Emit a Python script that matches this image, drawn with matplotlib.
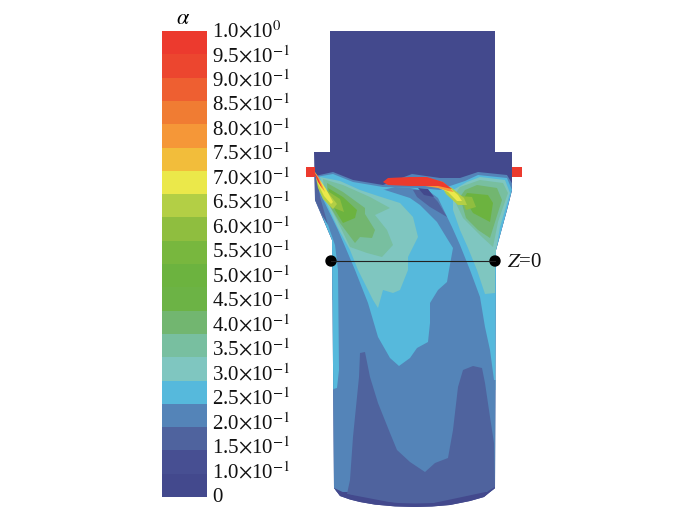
"""
Volume fraction contour of the burner section, with a stepped colour legend.
Contour outlines are read off the picture, in image pixels.
"""

import matplotlib.pyplot as plt
import numpy as np
from matplotlib.colors import ListedColormap
from matplotlib.patches import Circle, Polygon

plt.rcParams["mathtext.fontset"] = "stix"
plt.rcParams["font.family"] = ["Liberation Serif", "DejaVu Serif"]

W, H = 700, 511

TICK_LABELS = [
    r"1.0$\times$10$^{0}$", r"9.5$\times$10$^{-1}$", r"9.0$\times$10$^{-1}$",
    r"8.5$\times$10$^{-1}$", r"8.0$\times$10$^{-1}$", r"7.5$\times$10$^{-1}$",
    r"7.0$\times$10$^{-1}$", r"6.5$\times$10$^{-1}$", r"6.0$\times$10$^{-1}$",
    r"5.5$\times$10$^{-1}$", r"5.0$\times$10$^{-1}$", r"4.5$\times$10$^{-1}$",
    r"4.0$\times$10$^{-1}$", r"3.5$\times$10$^{-1}$", r"3.0$\times$10$^{-1}$",
    r"2.5$\times$10$^{-1}$", r"2.0$\times$10$^{-1}$", r"1.5$\times$10$^{-1}$",
    r"1.0$\times$10$^{-1}$", "0",
]
BAND_COLORS = [
    "#ec3a2e", "#ec462f", "#ee5f31", "#f07c33", "#f59738", "#f2bd3b", "#ebe84a",
    "#b3cf45", "#8fbe3f", "#78b73e", "#6cb33f", "#6cb345", "#72b670", "#78bfa0",
    "#7fc6c0", "#56b9dc", "#5484b8", "#4f639e", "#474f92", "#43498d",
]

NAVY = "#43498d"
DARK = "#4f639e"
MID = "#5484b8"
LIGHT = "#56b9dc"
TEAL = "#7fc6c0"
SEA = "#78bfa0"
SOFT_GREEN = "#72b670"
GREEN = "#6cb33f"
LIME = "#8fbe3f"
PALE_LIME = "#b3cf45"
YELLOW = "#ebe84a"
ORANGE = "#f59738"
RED = "#ec3a2e"

BODY = [(330, 31), (495, 31), (495, 152), (512, 152), (512, 190), (507, 210), (496, 250),
        (495, 488), (484, 497), (470, 501), (450, 505), (432, 506.5), (415, 507), (395, 506.4),
        (375, 504.6), (360, 502), (350, 499.5), (340, 496), (334, 488), (332, 240), (315, 200),
        (314, 152), (330, 152)]
LEFT_NUB = [(306, 167), (315, 167), (315, 177), (306, 177)]
RIGHT_NUB = [(512, 167), (522, 167), (522, 177), (512, 177)]

HALO_MID = [(315, 176), (333, 172), (353, 180), (383, 185), (412, 174), (440, 178), (460, 178),
            (478, 172), (507, 175), (513, 185), (513, 300), (315, 300)]
HALO_LIGHT = [(316, 177), (333, 174), (353, 182), (383, 187), (420, 188), (440, 190), (450, 186),
              (465, 181), (478, 175), (507, 178), (512, 190), (507, 210), (497, 250), (497, 390),
              (330, 390), (330, 240), (318, 200)]
MID_LOWER = [(316, 195), (328, 225), (335, 245), (338, 270), (339, 370), (337, 388), (330, 390),
             (330, 492), (498, 492), (498, 380), (494, 380), (490, 350), (485, 327), (480, 297),
             (470, 270), (460, 245), (452, 227), (438, 198), (430, 192), (410, 188), (395, 187),
             (383, 190), (350, 190), (320, 193)]
EDGE_LEFT = [(314, 177), (318, 177), (320, 197), (328, 225), (322, 215), (315, 200)]
LIGHT_CENTRE = [(320, 193), (338, 230), (355, 270), (368, 303), (378, 337), (390, 358), (399, 366),
                (410, 358), (417, 348), (428, 342), (430, 323), (430, 303), (438, 290), (447, 282),
                (449, 270), (453, 248), (448, 240), (437, 222), (420, 205), (410, 198), (385, 190),
                (350, 184), (325, 178)]
DARK_WEDGE = [(413, 190), (427, 190), (438, 202), (447, 217), (430, 207), (417, 197)]
NAVY_WEDGE = [(418, 188), (428, 189), (434, 197), (424, 195)]
TEAL_LEFT = [(320, 177), (340, 181), (360, 190), (378, 196), (400, 203), (413, 217), (418, 237),
             (408, 257), (408, 270), (400, 290), (393, 293), (383, 290), (378, 308), (373, 300),
             (358, 270), (350, 250), (338, 228), (325, 200)]
TEAL_RIGHT = [(453, 190), (467, 182), (480, 177), (505, 180), (510, 193), (500, 227), (495, 257),
              (495, 293), (485, 294), (477, 270), (468, 248), (460, 230), (453, 210)]
SEA_LEFT = [(323, 179), (343, 185), (370, 197), (390, 208), (375, 215), (387, 230), (393, 245),
            (382, 257), (367, 253), (350, 247), (337, 220), (325, 197)]
SEA_RIGHT = [(453, 197), (460, 187), (480, 180), (503, 183), (508, 193), (498, 222), (493, 247),
             (482, 237), (463, 218)]
SOFT_LEFT = [(327, 183), (343, 192), (365, 208), (365, 214), (375, 230), (372, 238), (360, 237),
             (355, 243), (340, 223), (328, 203)]
SOFT_RIGHT = [(460, 197), (465, 190), (477, 185), (497, 188), (502, 200), (495, 222), (490, 238),
              (478, 230), (466, 218)]
GREEN_LEFT = [(328, 188), (343, 197), (357, 210), (355, 218), (343, 223), (335, 210)]
GREEN_RIGHT = [(464, 198), (467, 193), (488, 195), (493, 203), (490, 222), (473, 213)]
LIME_LEFT = [(326, 190), (340, 199), (344, 212), (334, 208)]
LIME_RIGHT = [(460, 196), (472, 197), (476, 207), (466, 210)]
PALE_LEFT = [(316, 178), (326, 190), (337, 204), (333, 209), (323, 199), (318, 188)]
PALE_RIGHT = [(440, 183), (452, 188), (464, 198), (467, 205), (458, 205), (446, 194)]
STREAK_LEFT = [(315, 172), (320, 180), (326, 189), (333, 202), (331, 204), (324, 196), (318, 184)]
STREAK_RIGHT = [(432, 179), (445, 184), (458, 195), (462, 201), (457, 201), (448, 192), (437, 187)]
ORANGE_LEFT = [(314, 171), (319, 178), (325, 192), (321, 187)]
ORANGE_RIGHT = [(425, 178), (443, 182), (454, 192), (448, 191), (438, 188), (425, 186)]
CORE_FLAME = [(383, 182), (388, 178), (410, 177), (427, 177), (443, 182), (452, 189), (438, 186),
              (427, 186), (410, 186), (388, 185)]
CORE_LEFT = [(314, 172), (318, 178), (322, 188), (318, 182)]

DARK_HUMPS = [(365, 352), (360, 353), (359, 377), (353, 437), (350, 480), (347, 494), (415, 507),
              (495, 490), (495, 487), (494, 443), (490, 417), (485, 383), (482, 368), (473, 366),
              (463, 370), (458, 387), (453, 430), (448, 458), (435, 463), (425, 472), (410, 462),
              (397, 450), (390, 433), (378, 403), (370, 377)]
BASE_ARC = [(334, 488), (347, 494), (362, 498.5), (380, 501.5), (398, 503), (415, 503.5), (435, 503),
            (452, 501), (470, 497.5), (485, 493), (495, 487), (495, 510), (334, 510)]

LAYERS = [
    (HALO_MID, MID), (HALO_LIGHT, LIGHT), (MID_LOWER, MID), (EDGE_LEFT, DARK), (LIGHT_CENTRE, LIGHT),
    (DARK_WEDGE, DARK), (NAVY_WEDGE, NAVY), (DARK_HUMPS, DARK), (BASE_ARC, NAVY),
    (TEAL_LEFT, TEAL), (TEAL_RIGHT, TEAL), (SEA_LEFT, SEA), (SEA_RIGHT, SEA),
    (SOFT_LEFT, SOFT_GREEN), (SOFT_RIGHT, SOFT_GREEN), (GREEN_LEFT, GREEN), (GREEN_RIGHT, GREEN),
    (LIME_LEFT, LIME), (LIME_RIGHT, LIME), (PALE_LEFT, PALE_LIME), (PALE_RIGHT, PALE_LIME),
    (STREAK_LEFT, YELLOW), (STREAK_RIGHT, YELLOW),
    (ORANGE_LEFT, ORANGE), (ORANGE_RIGHT, ORANGE), (CORE_FLAME, RED), (CORE_LEFT, RED),
]

fig = plt.figure(figsize=(W / 100, H / 100), dpi=100)

# legend bar
cax = fig.add_axes([162 / W, 1 - 497 / H, 45 / W, 466 / H])
n_bands = len(BAND_COLORS)
bands = np.arange(n_bands)[:, None]
cax.pcolormesh([0, 1], np.arange(n_bands + 1), bands, cmap=ListedColormap(BAND_COLORS[::-1]))
cax.set_xlim(0, 1)
cax.set_ylim(0, n_bands)
cax.axis("off")

# drawing in image pixels
ax = fig.add_axes([0, 0, 1, 1], facecolor="none")
ax.set_xlim(0, W)
ax.set_ylim(H, 0)
ax.axis("off")

ax.text(183, 19, r"$\alpha$", ha="center", va="center", fontsize=16)
for y, label in zip(np.linspace(32, 497, len(TICK_LABELS)), TICK_LABELS):
    ax.text(212, y + 5.5, label, ha="left", va="baseline", fontsize=15, color="#111111")

body = Polygon(BODY, closed=True, facecolor=NAVY, edgecolor="none")
ax.add_patch(body)
ax.add_patch(Polygon(LEFT_NUB, closed=True, facecolor=RED, edgecolor="none"))
ax.add_patch(Polygon(RIGHT_NUB, closed=True, facecolor=RED, edgecolor="none"))
for outline, color in LAYERS:
    patch = Polygon(outline, closed=True, facecolor=color, edgecolor="none")
    ax.add_patch(patch)
    patch.set_clip_path(body)

ax.plot([331, 495], [261, 261], color="#222222", lw=0.8)
ax.add_patch(Circle((331, 261), 5, color="black"))
ax.add_patch(Circle((495, 261), 5, color="black"))
ax.text(507, 267, r"$Z$=0", ha="left", va="baseline", fontsize=15, color="#111111")

fig.savefig("out.png", dpi=100)
